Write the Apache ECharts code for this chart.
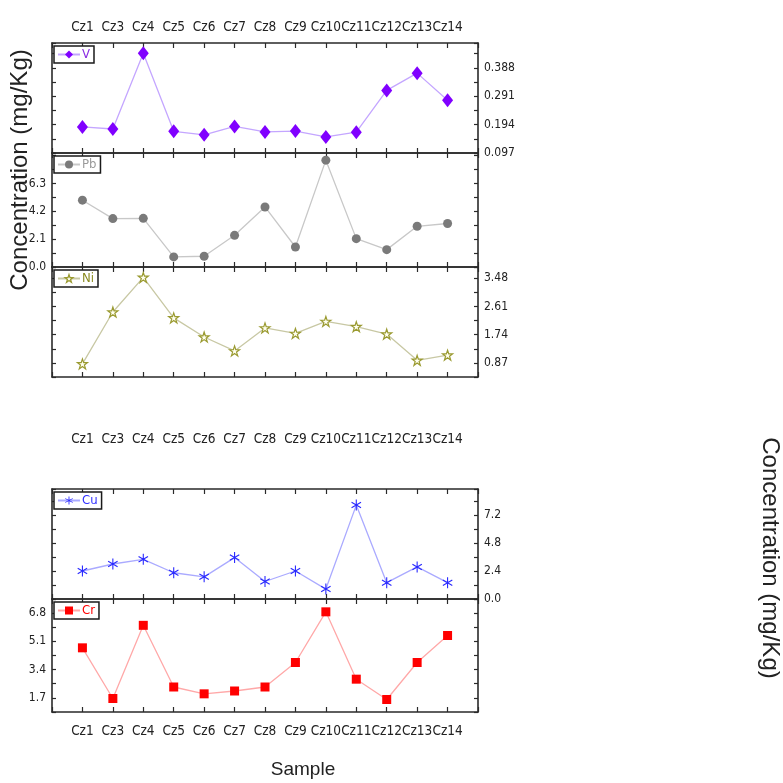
<!DOCTYPE html>
<html>
<head>
<meta charset="utf-8">
<script src="https://cdn.jsdelivr.net/npm/echarts@6/dist/echarts.min.js"></script>
<style>html,body{margin:0;padding:0;background:#fff;}#c{width:783px;height:783px;}</style>
</head>
<body>
<div id="c"></div>
<script>
const categories = ['Cz1','Cz3','Cz4','Cz5','Cz6','Cz7','Cz8','Cz9','Cz10','Cz11','Cz12','Cz13','Cz14'];
const vValues  = [0.186,0.179,0.438,0.171,0.159,0.188,0.169,0.172,0.152,0.168,0.311,0.370,0.277];
const pbValues = [5.04,3.65,3.67,0.76,0.81,2.39,4.53,1.51,8.06,2.14,1.31,3.07,3.28];
const niValues = [0.84,2.44,3.51,2.26,1.67,1.24,1.95,1.78,2.15,1.99,1.76,0.95,1.11];
const cuValues = [2.4,3.0,3.4,2.25,1.9,3.55,1.5,2.4,0.85,8.05,1.4,2.75,1.4];
const crValues = [4.70,1.66,6.05,2.35,1.94,2.11,2.35,3.82,6.86,2.82,1.60,3.82,5.44];

const vTicks  = [0.097,0.194,0.291,0.388];
const pbTicks = [0.0,2.1,4.2,6.3];
const niTicks = [0.87,1.74,2.61,3.48];
const cuTicks = [0.0,2.4,4.8,7.2];
const crTicks = [1.7,3.4,5.1,6.8];

const NARROW = '"Liberation Sans Narrow","Arial Narrow","DejaVu Sans Condensed",sans-serif';
const SANS = '"Liberation Sans",Arial,sans-serif';

const starPath = 'path://M50,0L61.8,35.1L98.9,35.1L69.1,56.7L80.9,91.9L50,70.3L19.1,91.9L30.9,56.7L1.1,35.1L38.2,35.1Z';
const asteriskPath = 'path://M-1,-10L1,-10L1,10L-1,10Z M-9.16,-4.13L-8.16,-5.87L9.16,4.13L8.16,5.87Z M8.16,-5.87L9.16,-4.13L-8.16,5.87L-9.16,4.13Z';

const panels = [
  {name:'V',  values:vValues,  ticks:vTicks,  dec:3, min:0.097, max:0.473, interval:0.0485, side:'right', top:43,  height:110,
   symbol:'diamond', symbolSize:[11,14], mColor:'#8000ff', lColor:'#c4a6ff', tColor:'#8a2be2', topLabels:true, topMargin:9},
  {name:'Pb', values:pbValues, ticks:pbTicks, dec:1, min:0, max:8.6, interval:1.05, side:'left', top:153, height:114,
   symbol:'circle', symbolSize:9, mColor:'#7a7a7a', lColor:'#c8c8c8', tColor:'#9a9a9a'},
  {name:'Ni', values:niValues, ticks:niTicks, dec:2, min:0.435, max:3.83, interval:0.435, side:'right', top:267, height:110,
   symbol:starPath, symbolSize:10, mColor:'#fffff0', border:'#9a9a30', lColor:'#c8c8a4', tColor:'#8a8a20'},
  {name:'Cu', values:cuValues, ticks:cuTicks, dec:1, min:0, max:9.43, interval:1.2, side:'right', top:489, height:110,
   symbol:asteriskPath, symbolSize:[10,11], mColor:'#2828ff', lColor:'#aaaaff', tColor:'#3030ff', topLabels:true, topMargin:43},
  {name:'Cr', values:crValues, ticks:crTicks, dec:1, min:0.85, max:7.63, interval:0.85, side:'left', top:599, height:113,
   symbol:'rect', symbolSize:9, mColor:'#ff0000', lColor:'#ffa8a8', tColor:'#ff0000', bottomLabels:true, bottomMargin:12}
];

const grid = [], xAxis = [], yAxis = [], series = [], legend = [];
const axisLine = {show:true, onZero:false, lineStyle:{color:'#2a2a2a', width:1.6}};
const xFmt = v => (Math.abs(v - Math.round(v)) < 1e-6 && v >= 1 && v <= 13) ? categories[Math.round(v)-1] : '';

panels.forEach((p, i) => {
  grid.push({left:52, right:305, top:p.top, height:p.height, containLabel:false});
  const xBase = {type:'value', gridIndex:i, min:0, max:14, interval:1, splitLine:{show:false}, axisLine,
    axisTick:{show:true, inside:true, length:5, lineStyle:{color:'#2a2a2a', width:1.2}}};
  xAxis.push(Object.assign({}, xBase, {position:'bottom',
    axisLabel:{show:!!p.bottomLabels, margin:p.bottomMargin||8, formatter:xFmt, color:'#222', fontFamily:NARROW, fontSize:13.5}}));
  xAxis.push(Object.assign({}, xBase, {position:'top',
    axisLabel:{show:!!p.topLabels, margin:p.topMargin||8, formatter:xFmt, color:'#222', fontFamily:NARROW, fontSize:13.5}}));
  const yFmt = v => { const hit = p.ticks.find(t => Math.abs(t - v) < 1e-4); return hit !== undefined ? hit.toFixed(p.dec) : ''; };
  const yBase = {type:'value', gridIndex:i, min:p.min, max:p.max, interval:p.interval, splitLine:{show:false}, axisLine,
    axisTick:{show:true, inside:true, length:4, lineStyle:{color:'#2a2a2a', width:1.2}}};
  yAxis.push(Object.assign({}, yBase, {position:'left',
    axisLabel:{show:p.side==='left', margin:6, formatter:yFmt, color:'#222', fontFamily:NARROW, fontSize:12}}));
  yAxis.push(Object.assign({}, yBase, {position:'right',
    axisLabel:{show:p.side==='right', margin:6, formatter:yFmt, color:'#222', fontFamily:NARROW, fontSize:12}}));
  const itemStyle = {color:p.mColor, borderColor:p.border||p.mColor, borderWidth:p.border?1.2:0};
  series.push({
    name:p.name, type:'line', xAxisIndex:2*i, yAxisIndex:2*i,
    data:p.values.map((v, k) => [k+1, v]),
    symbol:p.symbol, symbolSize:p.symbolSize, showAllSymbol:true,
    itemStyle, lineStyle:{color:p.lColor, width:1.3}, z:3, animation:false
  });
  legend.push({
    data:[{name:p.name, itemStyle:Object.assign({}, itemStyle)}], left:54, top:p.top+3, orient:'horizontal',
    backgroundColor:'#fff', borderColor:'#1a1a1a', borderWidth:1.5, borderRadius:0,
    padding:[2,4,2,3], itemWidth:22, itemHeight:10, itemGap:0,
    textStyle:{color:p.tColor, fontFamily:NARROW, fontSize:13, padding:[0,0,0,-3]},
    selectedMode:false
  });
});

const chart = echarts.init(document.getElementById('c'));
chart.setOption({
  animation:false,
  backgroundColor:'#fff',
  grid, xAxis, yAxis, series, legend,
  graphic:[
    {type:'text', x:20, y:170, rotation:Math.PI/2,
     style:{text:'Concentration (mg/Kg)', font:'24px '+SANS, fill:'#222', align:'center', verticalAlign:'middle'}},
    {type:'text', x:770, y:558, rotation:-Math.PI/2,
     style:{text:'Concentration (mg/Kg)', font:'24px '+SANS, fill:'#222', align:'center', verticalAlign:'middle'}},
    {type:'text', x:303, y:770,
     style:{text:'Sample', font:'19px '+SANS, fill:'#222', align:'center', verticalAlign:'middle'}}
  ]
});
</script>
</body>
</html>
